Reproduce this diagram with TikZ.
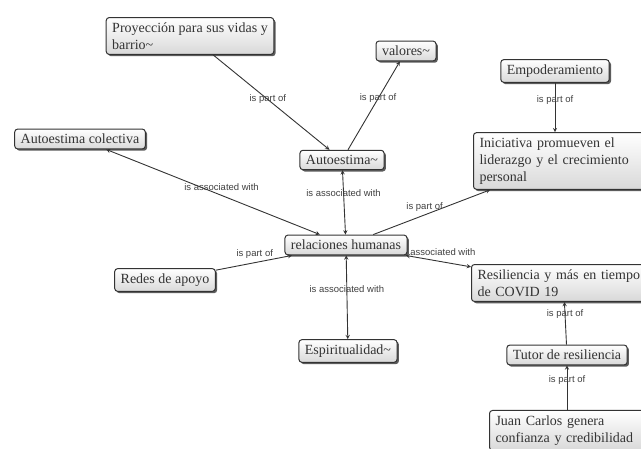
\documentclass[tikz,border=0pt]{standalone}
\usepackage{fontspec}
\setmainfont{Liberation Serif}
\newfontfamily\linkfont{Liberation Sans}
\usetikzlibrary{shapes,arrows,positioning,calc,shadows}

\begin{document}
\begin{tikzpicture}[
    x=1pt, y=-1pt,
    concept/.style={rectangle, rounded corners=3pt, draw=gray!40!black, line width=1pt,
        top color=white, bottom color=gray!30,
        drop shadow={shadow xshift=1.8pt, shadow yshift=-1.8pt, fill=gray!40!black, opacity=0.8},
        align=left, inner xsep=6pt, inner ysep=5pt,
        font=\fontsize{14}{17}\selectfont, text=black!80},
    edge concept/.style={concept, anchor=west, text width=172pt},
    link/.style={font=\linkfont\fontsize{9.5}{11}\selectfont, text=black!75, inner sep=1pt},
    conn/.style={black!80, line width=0.9pt},
    >=stealth
]
\useasboundingbox (0,0) rectangle (641,449);
\clip (0,0) rectangle (641,449);

\node[concept] (proy) at (190,36) {Proyección para sus vidas y\\barrio\textasciitilde};
\node[concept] (valores) at (406,51) {valores\textasciitilde};
\node[concept] (empod) at (555,71) {Empoderamiento};
\node[concept] (autocol) at (80,139) {Autoestima colectiva};
\node[concept] (autoe) at (342,160) {Autoestima\textasciitilde};
\node[edge concept] (inic) at (473,161) {Iniciativa promueven el\\liderazgo y el crecimiento\\personal};
\node[concept] (relac) at (346,245) {relaciones humanas};
\node[concept] (redes) at (165,280) {Redes de apoyo};
\node[edge concept] (resil) at (471,283) {Resiliencia y más en tiempo\\de COVID 19};
\node[concept] (espir) at (348,351) {Espiritualidad\textasciitilde};
\node[concept] (tutor) at (567,355) {Tutor de resiliencia};
\node[edge concept, anchor=north west, text width=146pt] (juan) at (489,410) {Juan Carlos genera\\confianza y credibilidad};

% Links
\draw[->, conn] (proy) -- node[link, pos=0.47] {is part of} (autoe);
\draw[->, conn] (autoe) -- node[link, pos=0.58] {is part of} (valores);
\draw[->, conn] (empod) -- node[link, pos=0.35] {is part of} (empod |- inic.north);
\draw[<->, conn] (relac) -- node[link, pos=0.46, yshift=8pt] {is associated with} (autocol);
\draw[<->, conn] (relac) -- node[link, pos=0.64] {is associated with} (autoe);
\draw[->, conn] (relac) -- node[link, pos=0.44, yshift=8pt] {is part of} (inic);
\draw[->, conn] (redes) -- node[link, pos=0.51, yshift=9pt] {is part of} (relac);
\draw[<->, conn] (relac) -- node[link, pos=0.57, yshift=10pt] {associated with} (resil);
\draw[<->, conn] (relac) -- node[link, pos=0.4] {is associated with} (espir);

% Resiliencia chain
\draw[->, conn] (tutor) -- node[link, pos=0.72] {is part of} (resil);
\draw[->, conn] (juan.north -| tutor.south) -- node[link, pos=0.67] {is part of} (tutor);

\end{tikzpicture}
\end{document}
